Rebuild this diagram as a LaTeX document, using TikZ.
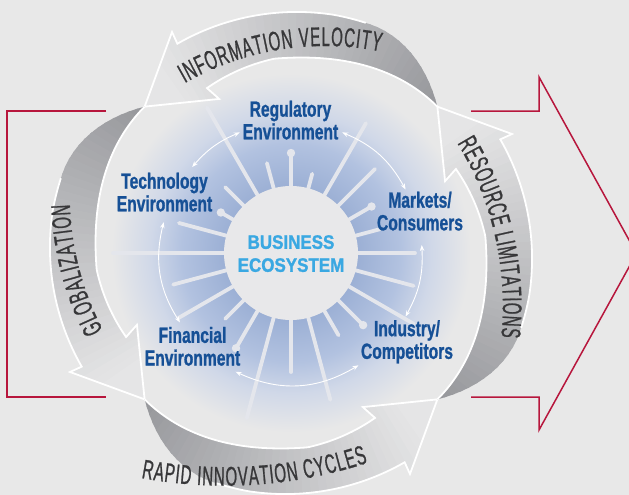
\documentclass[tikz,border=0pt]{standalone}
\usepackage{fontspec}
\usetikzlibrary{arrows.meta}
\newfontfamily\labfont{Liberation Sans}[FakeStretch=0.71,FakeBold=1.0]
\newfontfamily\bandfont{Liberation Sans}[FakeStretch=0.556,FakeBold=0.8]
\newfontfamily\ecofont{Liberation Sans}[FakeStretch=0.87,FakeBold=1.3]
\definecolor{bgc}{RGB}{232,232,232}
\definecolor{labc}{RGB}{22,80,150}
\definecolor{ecoc}{RGB}{58,168,226}
\definecolor{bandtxt}{RGB}{55,55,57}
\definecolor{redc}{RGB}{183,22,60}
\definecolor{spokec}{RGB}{228,230,236}
\definecolor{darkg}{RGB}{150,151,155}
\definecolor{lightg}{RGB}{229,229,230}
\definecolor{innerc}{RGB}{232,232,234}
\definecolor{blue1}{RGB}{156,176,213}
\definecolor{blue2}{RGB}{178,194,224}
\definecolor{blue3}{RGB}{208,216,232}
\pgfdeclareradialshading{ecoshade}{\pgfpointorigin}{color(0bp)=(blue1); color(8.6bp)=(blue1); color(14bp)=(blue2); color(18bp)=(blue3); color(23bp)=(bgc); color(50bp)=(bgc)}
\newcommand\bandstyle{\bandfont\fontsize{27}{27}\selectfont}
\def\lsp{1.0}
\def\emsz{15}
% #1 name prefix, #2 cx, #3 cy, #4 baseline radius, #5 centre angle, #6 direction, #7 letter/width list
\newcommand\arcword[7]{%
  \xdef\totw{0}%
  \foreach \c/\w in {#7}{\pgfmathsetmacro\tmpw{\totw+\w*\emsz+\lsp}\xdef\totw{\tmpw}}%
  \pgfmathsetmacro\tmpa{(#5)-(#6)*(\totw-\lsp)/2/(#4)*180/pi}\xdef\curang{\tmpa}%
  \foreach \c/\w [count=\i] in {#7}{%
    \pgfmathsetmacro\midang{(\curang)+(#6)*(\w*\emsz/2)/(#4)*180/pi}%
    \pgfmathsetmacro\rot{-1*(\midang)-(#6)*90}%
    \node[bandletter,rotate=\rot] (#1\i) at ({(#2)+(#4)*cos(\midang)},{(#3)+(#4)*sin(\midang)}) {\c};%
    \pgfmathsetmacro\tmpa{(\curang)+(#6)*(\w*\emsz+\lsp)/(#4)*180/pi}\xdef\curang{\tmpa}%
  }%
}
\newcommand{\ecoarrow}[1]{%
  \begin{scope}
    \clip plot[smooth,variable=\q,domain=0:73.5,samples=40] ({#1-\q}:{rout(\q)}) -- ({#1-73.3}:251) -- ({#1-90}:207) -- ({#1-70}:170) -- ({#1-72}:{rin(72)}) -- plot[smooth,variable=\q,domain=72:0,samples=40] ({#1-\q}:{rin(\q)}) -- cycle;
    \foreach \k in {0,...,46}{%
      \pgfmathsetmacro\pa{#1-2*\k+0.3}%
      \pgfmathsetmacro\pb{#1-2*\k-2.3}%
      \pgfmathtruncatemacro\pc{min(100,(2*\k+1)*100/80)}%
      \fill[lightg!\pc!darkg] (0,0) -- (\pa:280) -- (\pb:280) -- cycle;
    }
  \end{scope}
  \draw[white,line width=1.8pt,line join=miter] plot[smooth,variable=\q,domain=27:73.5,samples=30] ({#1-\q}:{rout(\q)}) -- ({#1-73.3}:251) -- ({#1-90}:207) -- ({#1-70}:170) -- ({#1-72}:{rin(72)}) -- plot[smooth,variable=\q,domain=72:0,samples=40] ({#1-\q}:{rin(\q)});
}
\begin{document}
\begin{tikzpicture}[x=1pt,y=-1pt,
  declare function={rout(\t)=207+35*sin(min(\t,26)*90/26)-0.1*max(\t-35,0); rin(\t)=207-6*(1-cos(min(\t,50)*180/50))-0.45*max(\t-50,0);},
  spokeline/.style={draw=spokec,line width=3.8pt,line cap=round},
  lab/.style={text=labc,align=center,inner sep=0pt,font={\labfont\bfseries\fontsize{22}{22.7}\selectfont}},
  eco/.style={text=ecoc,align=center,inner sep=0pt,font={\ecofont\bfseries\fontsize{19.5}{23}\selectfont}},
  bandletter/.style={text=bandtxt,font=\bandstyle,inner sep=0pt,anchor=base},
  dbl/.style={draw=white,line width=0.9pt,{Stealth[length=6pt,width=4.5pt]}-{Stealth[length=6pt,width=4.5pt]}},
  redline/.style={draw=redc,line width=1.5pt}
]
\useasboundingbox (0,0) rectangle (629,495);
\fill[bgc] (0,0) rectangle (629,495);
% red bracket and arrow
\draw[redline] (106,111) -- (7,111) -- (7,397) -- (106,397);
\draw[redline,line join=miter] (471,111) -- (539,111) -- (539,77) -- (636.5,253.5) -- (539,430) -- (539,397) -- (471,397);
\begin{scope}[shift={(291,253)}]
  \shade[shading=ecoshade] (0,0) circle[radius=195];
  \foreach \a/\r/\d in {-165/116/0,-150/81/1,-135/93/0,-120/168/0,-105/93/0,-90/100/1,-75/82/0,-60/150/0,-45/119/0,-30/93/1,-15/92/0,0/124/0,15/127/0,30/142/0,45/102/1,60/95/0,75/152/0,90/119/0,105/171/0,120/110/1,135/93/0,150/130/0,165/122/0,180/178/0}{
    \draw[spokeline] (\a:60) -- (\a:\r);
    \ifnum\d=1 \fill[spokec] (\a:\r) circle[radius=4.2]; \fi
  }
  \fill[innerc] (0,0) circle[radius=67];
  % connectors between the environments
  \coordinate (a1) at (-139:131); \coordinate (a2) at (-113:131);
  \coordinate (b1) at (-67:131);  \coordinate (b2) at (-29:131);
  \coordinate (c1) at (-3.5:131); \coordinate (c2) at (29:131);
  \coordinate (d1) at (59:131);   \coordinate (d2) at (115:131);
  \coordinate (e1) at (148:131);  \coordinate (e2) at (193.6:131);
  \draw[dbl] (a1) to[bend left=13] (a2);
  \draw[dbl] (b1) to[bend left=19] (b2);
  \draw[dbl] (c1) to[bend left=16] (c2);
  \draw[dbl] (d1) to[bend left=28] (d2);
  \draw[dbl] (e1) to[bend left=23] (e2);
  % four cycle arrows
  \ecoarrow{-45}
  \ecoarrow{-135}
  \ecoarrow{135}
  \ecoarrow{45}
\end{scope}
% texts on the arrows
\arcword{iv}{325}{329}{283}{-99.2}{1}{I/0.278,N/0.722,F/0.611,O/0.778,R/0.722,M/0.833,A/0.667,T/0.611,I/0.278,O/0.778,N/0.722,~/0.278,V/0.667,E/0.667,L/0.556,O/0.778,C/0.722,I/0.278,T/0.611,Y/0.667}
\arcword{rl}{189.6}{306}{313.3}{-12.8}{1}{R/0.722,E/0.667,S/0.667,O/0.778,U/0.722,R/0.722,C/0.722,E/0.667,~/0.278,L/0.556,I/0.278,M/0.833,I/0.278,T/0.611,A/0.667,T/0.611,I/0.278,O/0.778,N/0.722,S/0.667}
\arcword{gl}{360}{195}{290.3}{165.2}{1}{G/0.778,L/0.556,O/0.778,B/0.667,A/0.667,L/0.556,I/0.278,Z/0.611,A/0.667,T/0.611,I/0.278,O/0.778,N/0.722}
\arcword{ri}{224.8}{28}{457.7}{86.15}{-1}{R/0.722,A/0.667,P/0.667,I/0.278,D/0.722,~/0.278,I/0.278,N/0.722,N/0.722,O/0.778,V/0.667,A/0.667,T/0.611,I/0.278,O/0.778,N/0.722,~/0.278,C/0.722,Y/0.667,C/0.722,L/0.556,E/0.667,S/0.667}
% labels
\node[lab,anchor=north] (reg) at (290.5,100.5) {Regulatory\\Environment};
\node[lab,anchor=north] (tech) at (164.5,172.5) {Technology\\Environment};
\node[lab,anchor=north] (mkt) at (420,191.5) {Markets/\\Consumers};
\node[lab,anchor=north] (ind) at (407,320) {Industry/\\Competitors};
\node[lab,anchor=north] (fin) at (192.5,326.7) {Financial\\Environment};
\node[eco,anchor=north] (eco) at (291,235) {BUSINESS\\ECOSYSTEM};
\end{tikzpicture}
\end{document}
